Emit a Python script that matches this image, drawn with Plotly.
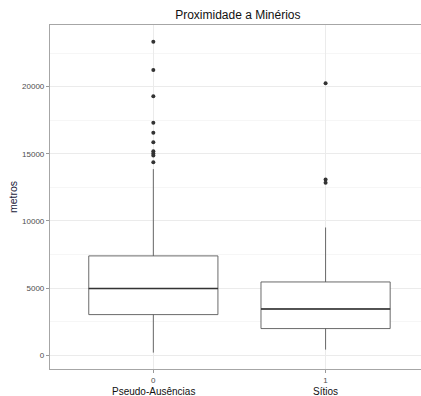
import plotly.graph_objects as go

categories = ["Pseudo-Ausências", "Sítios"]
tick_labels = ["0", "1"]
y_ticks = [0, 5000, 10000, 15000, 20000]
y_tick_labels = ["0", "5000", "10000", "15000", "20000"]
q1 = [3030, 1990]
median = [4970, 3450]
q3 = [7400, 5460]
lower_whisker = [200, 425]
upper_whisker = [13860, 9515]
outliers_0 = [23350, 21240, 19280, 17310, 16565, 15870, 15200, 15030, 14880, 14380]
outliers_1 = [20250, 13090, 12840]
outliers = [outliers_0, outliers_1]

box_width = 0.75
xs = list(range(len(categories)))

fig = go.Figure()
for i in xs:
    fig.add_trace(go.Box(
        x=[i], q1=[q1[i]], median=[median[i]], q3=[q3[i]],
        lowerfence=[lower_whisker[i]], upperfence=[upper_whisker[i]],
        width=box_width, boxpoints=False, fillcolor="white",
        line=dict(color="#595959", width=0.9), whiskerwidth=0,
        showlegend=False, hoverinfo="skip"))
    fig.add_trace(go.Scatter(
        x=[i - box_width / 2, i + box_width / 2], y=[median[i], median[i]],
        mode="lines", line=dict(color="#333333", width=1.6),
        showlegend=False, hoverinfo="skip"))
    fig.add_trace(go.Scatter(
        x=[i] * len(outliers[i]), y=outliers[i], mode="markers",
        marker=dict(color="#333333", size=4),
        showlegend=False, hoverinfo="skip"))

for i, name in enumerate(categories):
    fig.add_annotation(x=i, xref="x", y=0, yref="paper", yanchor="top",
                       yshift=-14.5, text=name, showarrow=False,
                       font=dict(size=10, color="#111111"))

fig.update_layout(
    width=421, height=396,
    margin=dict(l=50, r=0, t=25, b=27),
    paper_bgcolor="white", plot_bgcolor="white",
    font=dict(family="Liberation Sans, Arial, sans-serif"),
    title=dict(text="Proximidade a Minérios", x=0.565, xanchor="center",
               y=1 - 15 / 396, yanchor="middle",
               font=dict(size=12, color="#111111")),
    xaxis=dict(range=[-0.6, 1.554], tickvals=xs, ticktext=tick_labels,
               showgrid=True, gridcolor="#ebebeb", gridwidth=1,
               zeroline=False, showline=True, linecolor="#a6a6a6",
               linewidth=1.2, mirror=True, ticks="outside", ticklen=3,
               tickcolor="#999999", tickfont=dict(size=8, color="#4d4d4d")),
    yaxis=dict(range=[-1020, 24590], tickvals=y_ticks, ticktext=y_tick_labels,
               showgrid=True, gridcolor="#ebebeb", gridwidth=1,
               minor=dict(dtick=2500, tick0=0, showgrid=True,
                          gridcolor="#f6f6f6", gridwidth=1, ticks=""),
               zeroline=False, showline=True, linecolor="#a6a6a6",
               linewidth=1.2, ticks="outside", ticklen=3,
               tickcolor="#999999", tickfont=dict(size=8, color="#4d4d4d"),
               title=dict(text="metros", font=dict(size=10.5, color="#1a1a3a"),
                          standoff=2)),
)

fig.write_html("out.html")
